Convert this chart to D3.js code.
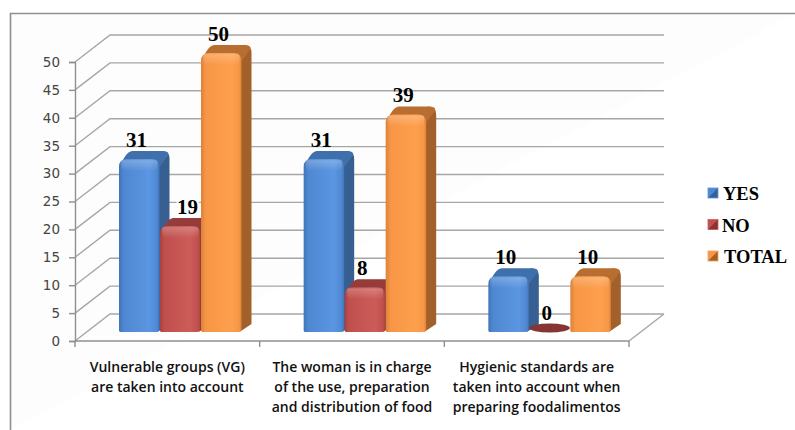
<!DOCTYPE html>
<html><head><meta charset="utf-8">
<script src="https://cdn.jsdelivr.net/npm/d3@7"></script>
<style>html,body{margin:0;padding:0;background:#fff}svg{display:block}</style>
</head><body><svg id="c" width="795" height="430"></svg>
<script>
const categories = ["cat1","cat2","cat3"];
const categoryLines = [
  ["Vulnerable groups (VG)","are taken into account"],
  ["The woman is in charge","of the use, preparation","and distribution of food"],
  ["Hygienic standards are","taken into account when","preparing foodalimentos"]
];
const seriesNames = ["YES","NO","TOTAL"];
const yesValues = [31,31,10];
const noValues = [19,8,0];
const totalValues = [50,39,10];
const seriesValues = [yesValues,noValues,totalValues];
const yTicks = [0,5,10,15,20,25,30,35,40,45,50];
const palette = {
  YES:{l:"#3f74b8",m:"#4f88d2",h:"#5b96e2",top:"#3f70ab",side:"#375f91"},
  NO:{l:"#a9413f",m:"#c0504d",h:"#cc5c58",top:"#953b39",side:"#853634"},
  TOTAL:{l:"#dc8238",m:"#f79646",h:"#fda04e",top:"#b76e30",side:"#a2602a"}
};

const svg = d3.select("#c");
const defs = svg.append("defs");
seriesNames.forEach(s=>{
  const c=palette[s];
  const g=defs.append("linearGradient").attr("id","f"+s);
  [[0,c.l],[.12,c.m],[.75,c.h],[.94,c.m],[1,c.l]].forEach(d=>g.append("stop").attr("offset",d[0]).attr("stop-color",d[1]));
});
const bevel=defs.append("linearGradient").attr("id","bevel").attr("x1",0).attr("x2",0).attr("y1",0).attr("y2",1);
[[0,.0],[.15,.22],[1,0]].forEach(d=>bevel.append("stop").attr("offset",d[0]).attr("stop-color","#fff").attr("stop-opacity",d[1]));

svg.append("rect").attr("width",795).attr("height",430).attr("fill","#fff");
svg.append("path").attr("d","M10.5,430V13.5H795").attr("fill","#fdfdfd").attr("stroke","#8f8f8f").attr("stroke-width",1.6);

const wallDx=35, wallDy=-27, floorLift=9, barLeft=44, barsWidth=123, depthX=10, depthY=-8;
const x = d3.scaleBand().domain(categories).range([75,629]);
const inner = d3.scaleBand().domain(seriesNames).range([barLeft,barLeft+barsWidth]);
const y = d3.scaleLinear().domain([0,50]).range([341,62]);

// walls
const grid = svg.append("g").attr("fill","none").attr("stroke","#a6a6a6").attr("stroke-width",1.4);
yTicks.forEach(t=>{
  grid.append("path").attr("d",`M75,${y(t)}L${75+wallDx},${y(t)+wallDy}H${629+wallDx}`);
});
grid.append("path").attr("d",`M629,341L${629+wallDx},${341+wallDy}`);

// value axis
const yAxis = d3.axisLeft(y).tickValues(yTicks).tickSize(6).tickPadding(9);
const ya = svg.append("g").attr("transform","translate(75,0)").call(yAxis);
ya.select(".domain").attr("stroke","#8f8f8f").attr("stroke-width",1.4);
ya.selectAll(".tick line").attr("stroke","#8f8f8f").attr("stroke-width",1.4);
ya.selectAll("text").attr("font-family","DejaVu Sans").attr("font-size",13.5).attr("fill","#444");

// category axis
const xa = svg.append("g").attr("stroke","#8f8f8f").attr("stroke-width",1.4).attr("fill","none");
xa.append("path").attr("d",`M75,${y(0)}H629`);
[...categories.map(c=>x(c)),629].forEach(p=>xa.append("path").attr("d",`M${p},${y(0)}v6`));
categories.forEach((c,i)=>{
  const t=svg.append("text").attr("text-anchor","middle").attr("font-family","Open Sans").attr("font-weight",600).attr("font-size",14).attr("fill","#111");
  categoryLines[i].forEach((l,j)=>t.append("tspan").attr("x",x(c)+x.bandwidth()/2).attr("y",372+j*20).text(l));
});

// bars
const r=8;
categories.forEach((c,ci)=>{
  seriesNames.forEach((s,si)=>{
    const v=seriesValues[si][ci], p=palette[s];
    const x0=x(c)+inner(s), w=inner.bandwidth()-.5, x1=x0+w;
    const yb=y(0)-floorLift, yt=y(v)-floorLift;
    const g=svg.append("g");
    if(v===0){
      g.append("ellipse").attr("cx",x0+w/2).attr("cy",yb-4).attr("rx",w/2).attr("ry",4.5).attr("fill",p.side);
    } else {
      g.append("path").attr("fill",p.side).attr("d",
        `M${x1-2},${yb}L${x1+depthX},${yb+depthY}V${yt+depthY+r}Q${x1+depthX},${yt+depthY} ${x1+depthX-r},${yt+depthY}L${x1-r},${yt}Z`);
      g.append("path").attr("fill",p.top).attr("d",
        `M${x0+1},${yt+r}C${x0+3},${yt+2} ${x0+7},${yt+depthY+1} ${x0+depthX+3},${yt+depthY}H${x1+depthX-r}Q${x1+depthX},${yt+depthY} ${x1+depthX-1},${yt+depthY+4}L${x1},${yt+r}Z`);
      const front=`M${x0},${yb-1}V${yt+r}Q${x0},${yt} ${x0+r},${yt}H${x1-r}Q${x1},${yt} ${x1},${yt+r}V${yb-3}Q${x1},${yb} ${x1-4},${yb}H${x0+1}Z`;
      g.append("path").attr("fill",`url(#f${s})`).attr("d",front);
      g.append("rect").attr("x",x0+2).attr("y",yt).attr("width",w-4).attr("height",Math.min(12,yb-yt)).attr("rx",4).attr("fill","url(#bevel)");
    }
  });
});

// data labels
categories.forEach((c,ci)=>{
  seriesNames.forEach((s,si)=>{
    const v=seriesValues[si][ci];
    const moved = s==="NO" && ci===0; // this label sits off-centre, on a white patch, in the source
    const t=svg.append("text").attr("x",x(c)+inner(s)+inner.bandwidth()/2-(moved?-7:3)).attr("y",y(v)-floorLift-12)
      .attr("text-anchor","middle").attr("font-family","Liberation Serif").attr("font-weight",700)
      .attr("font-size",21).attr("fill","#000").text(v);
    if(moved) t.attr("stroke","#fff").attr("stroke-width",4).attr("paint-order","stroke");
  });
});

// legend
const legendY=d3.scalePoint().domain(seriesNames).range([193,256]);
const legendTextX={YES:723,NO:722,TOTAL:724};
seriesNames.forEach(s=>{
  const p=palette[s], cy=legendY(s), x0=708, x1=718, y0=cy-5, y1=cy+5, mx=713;
  const g=svg.append("g");
  g.append("rect").attr("x",x0).attr("y",y0).attr("width",x1-x0).attr("height",y1-y0).attr("fill",p.m);
  g.append("path").attr("d",`M${x1},${y0}V${y1}H${x0}L${mx},${cy}Z`).attr("fill",p.side);
  g.append("rect").attr("x",x0).attr("y",y0).attr("width",x1-x0).attr("height",y1-y0).attr("fill","none").attr("stroke",p.h).attr("stroke-width",.8);
  svg.append("text").attr("x",legendTextX[s]).attr("y",cy+7).attr("font-family","Liberation Serif").attr("font-weight",700)
    .attr("font-size",18.5).attr("fill","#000").text(s);
});
</script></body></html>
